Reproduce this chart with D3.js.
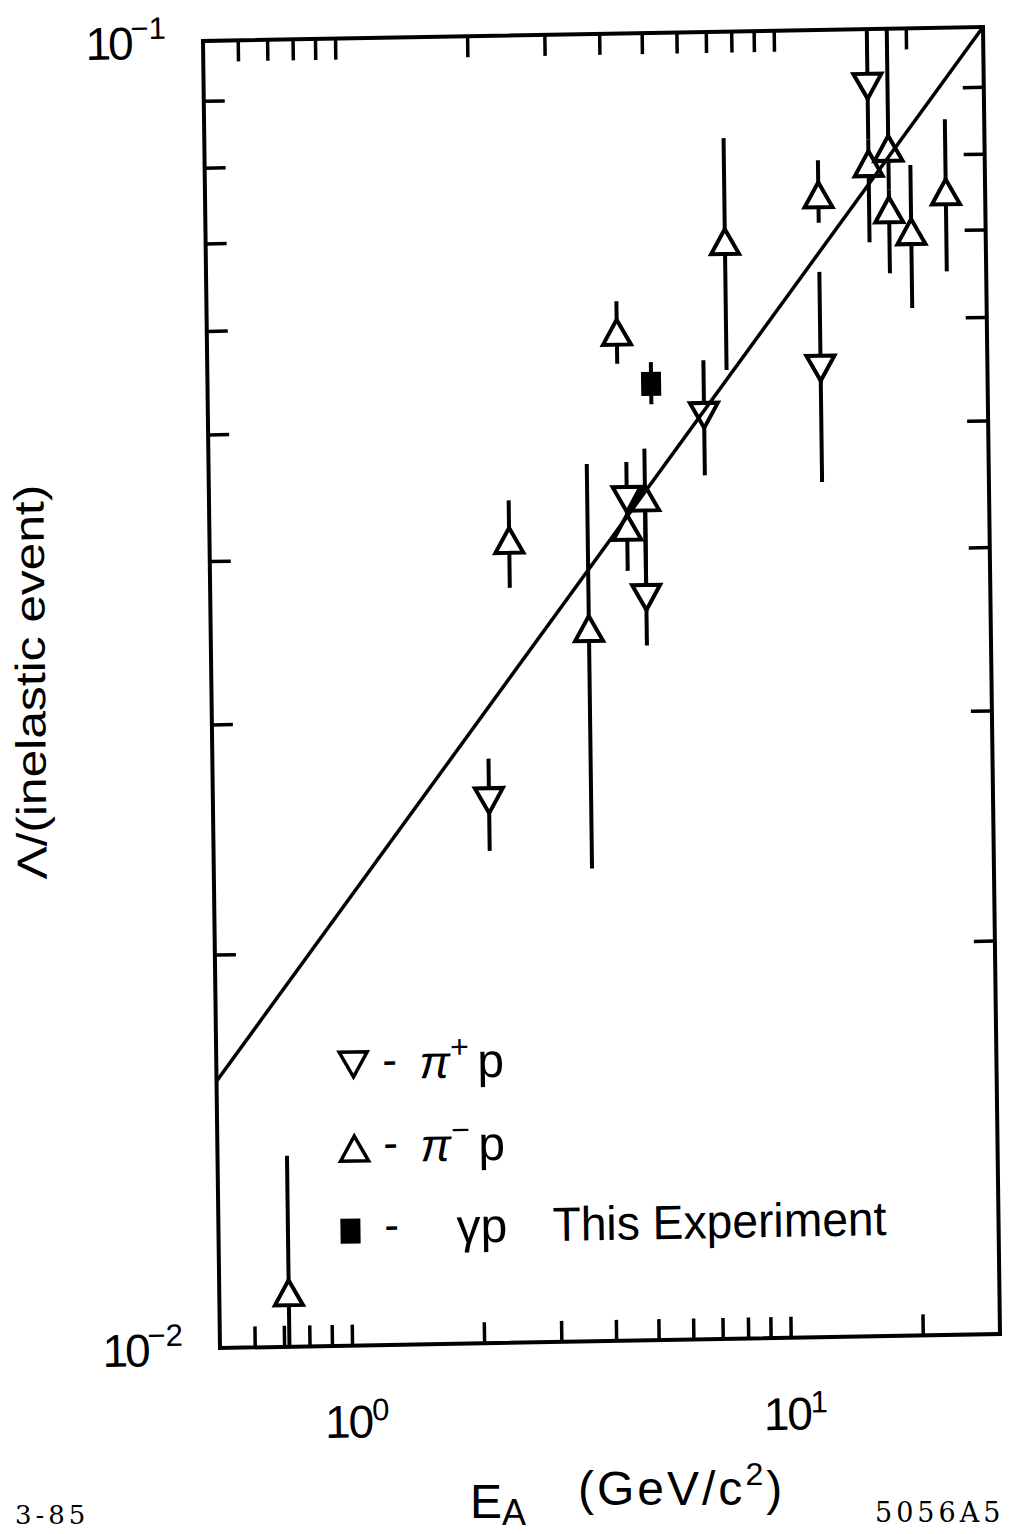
<!DOCTYPE html>
<html><head><meta charset="utf-8">
<script src="https://cdn.jsdelivr.net/npm/d3@7"></script>
<style>
html,body{margin:0;padding:0;background:#fff;}
svg{display:block;}
text{font-family:"Liberation Sans",Arial,sans-serif;fill:#000;}
</style></head><body>
<svg id="chart" width="1016" height="1534"></svg>
<script>
// ---------- data ----------
const xDomain = [0.5, 30];
const yDomain = [0.01, 0.1];
const xTicks = [0.6, 0.7, 0.8, 0.9, 1, 2, 3, 4, 5, 6, 7, 8, 9, 10, 20];
const yTicks = [0.02, 0.03, 0.04, 0.05, 0.06, 0.07, 0.08, 0.09];
const xTickLabels = [{v: 1, base: "10", exp: "0"}, {v: 10, base: "10", exp: "1"}];
const yTickLabels = [{v: 0.1, base: "10", exp: "−1"}, {v: 0.01, base: "10", exp: "−2"}];

// π+p  (open down-triangles)
const piPlusE  = [2.13, 4.48, 4.93, 6.76, 12.5, 16.3];
const piPlusV  = [0.0260, 0.0440, 0.0370, 0.0509, 0.0551, 0.0904];
const piPlusLo = [0.0238, 0.0419, 0.0340, 0.0458, 0.0451, 0.0823];
const piPlusHi = [0.0280, 0.0470, 0.0441, 0.0561, 0.0653, 0.1];

// π−p  (open up-triangles)
const piMinusE  = [0.72, 2.41, 3.64, 4.30, 4.48, 4.93, 7.63, 12.5, 16.3, 18.1, 18.1, 20.3, 24.4];
const piMinusV  = [0.0110, 0.0411, 0.0351, 0.0591, 0.0419, 0.0441, 0.0691, 0.0748, 0.0789, 0.0810, 0.0727, 0.0699, 0.0749];
const piMinusLo = [0.0100, 0.0378, 0.0230, 0.0559, 0.0388, 0.0370, 0.0551, 0.0712, 0.0687, 0.0753, 0.0650, 0.0611, 0.0651];
const piMinusHi = [0.0140, 0.0441, 0.0469, 0.0624, 0.0440, 0.0481, 0.0829, 0.0795, 0.0823, 0.1000, 0.0753, 0.0786, 0.0851];

// γp  This Experiment (filled square)
const gammaE  = [5.13];
const gammaV  = [0.0539];
const gammaLo = [0.0520];
const gammaHi = [0.0560];

// fitted line
const fitE = [0.5, 30];
const fitV = [0.016, 0.1];

// ---------- drawing ----------
const svg = d3.select("#chart");
const W = 780, H = 1307;
const g = svg.append("g").attr("transform", "matrix(1,-0.01795,0.013,1,203,41)");

const x = d3.scaleLog().domain(xDomain).range([0, W]);
const y = d3.scaleLog().domain(yDomain).range([H, 0]);

const TL = 21;
g.append("g").attr("class", "ax").attr("transform", `translate(0,${H})`)
  .call(d3.axisBottom(x).tickValues(xTicks).tickSize(-TL).tickSizeOuter(0).tickFormat(""));
g.append("g").attr("class", "ax")
  .call(d3.axisTop(x).tickValues(xTicks).tickSize(-TL).tickSizeOuter(0).tickFormat(""));
g.append("g").attr("class", "ax")
  .call(d3.axisLeft(y).tickValues(yTicks).tickSize(-TL).tickSizeOuter(0).tickFormat(""));
g.append("g").attr("class", "ax").attr("transform", `translate(${W},0)`)
  .call(d3.axisRight(y).tickValues(yTicks).tickSize(-TL).tickSizeOuter(0).tickFormat(""));
g.selectAll(".ax .domain").remove();
g.selectAll(".ax .tick line").attr("stroke", "#000").attr("stroke-width", 3.5);

g.append("rect").attr("width", W).attr("height", H)
  .attr("fill", "none").attr("stroke", "#000").attr("stroke-width", 4);

// tick labels
xTickLabels.forEach(d => {
  const t = g.append("text").attr("x", x(d.v) - 28).attr("y", H + 92).style("font-size", "46px");
  t.append("tspan").attr("letter-spacing", "-2").text(d.base);
  t.append("tspan").attr("dy", -17).style("font-size", "31px").text(d.exp);
});
yTickLabels.forEach(d => {
  const t = g.append("text").attr("x", -37).attr("y", y(d.v) + 17)
    .attr("text-anchor", "end").style("font-size", "46px");
  t.append("tspan").attr("letter-spacing", "-3").text(d.base);
  t.append("tspan").attr("dy", -20).style("font-size", "31px").text(d.exp);
});

// clip
g.append("clipPath").attr("id", "plotclip").append("rect").attr("width", W).attr("height", H);
const plot = g.append("g").attr("clip-path", "url(#plotclip)");

function bars(E, Lo, Hi) {
  plot.selectAll(null).data(d3.range(E.length)).enter().append("line")
    .attr("x1", i => x(E[i])).attr("x2", i => x(E[i]))
    .attr("y1", i => y(Hi[i])).attr("y2", i => y(Lo[i]))
    .attr("stroke", "#000").attr("stroke-width", 4);
}
bars(piPlusE, piPlusLo, piPlusHi);
bars(piMinusE, piMinusLo, piMinusHi);
bars(gammaE, gammaLo, gammaHi);

const TW = 28, THh = 25;
function triPath(up, cx, cy) {
  const hw = TW / 2, hh = THh / 2;
  return up
    ? `M${cx},${cy - hh}L${cx + hw},${cy + hh}L${cx - hw},${cy + hh}Z`
    : `M${cx},${cy + hh}L${cx + hw},${cy - hh}L${cx - hw},${cy - hh}Z`;
}
function tris(E, V, up) {
  plot.selectAll(null).data(d3.range(E.length)).enter().append("path")
    .attr("d", i => triPath(up, x(E[i]), y(V[i])))
    .attr("fill", "#fff").attr("stroke", "#000").attr("stroke-width", 4)
    .attr("stroke-linejoin", "miter");
}
tris(piPlusE, piPlusV, false);
tris(piMinusE, piMinusV, true);
plot.selectAll(null).data(d3.range(gammaE.length)).enter().append("rect")
  .attr("x", i => x(gammaE[i]) - 10).attr("y", i => y(gammaV[i]) - 12)
  .attr("width", 20).attr("height", 24).attr("fill", "#000");

// fit line
const line = d3.line().x(d => x(d[0])).y(d => y(d[1]));
plot.append("path").datum(d3.zip(fitE, fitV)).attr("d", line)
  .attr("fill", "none").attr("stroke", "#000").attr("stroke-width", 3.5);

// legend
const lg = g.append("g");
lg.append("path").attr("d", triPath(false, 137, 1026)).attr("fill", "#fff").attr("stroke", "#000").attr("stroke-width", 3.5);
lg.append("path").attr("d", triPath(true, 137, 1110)).attr("fill", "#fff").attr("stroke", "#000").attr("stroke-width", 3.5);
lg.append("rect").attr("x", 122).attr("y", 1180).attr("width", 20).attr("height", 25).attr("fill", "#000");

function legRow(yb, sup) {
  lg.append("text").attr("x", 166).attr("y", yb - 4).style("font-size", "44px").text("-");
  lg.append("text").attr("x", 203).attr("y", yb).style("font-size", "46px").style("font-style", "italic").text("π");
  lg.append("text").attr("x", 234).attr("y", yb - 20).style("font-size", "32px").text(sup);
  lg.append("text").attr("x", 261).attr("y", yb).style("font-size", "48px").text("p");
}
legRow(1041, "+");
legRow(1124, "−");
lg.append("text").attr("x", 166).attr("y", 1202).style("font-size", "44px").text("-");
lg.append("text").attr("x", 238).attr("y", 1206).style("font-size", "48px").text("γp");
lg.append("text").attr("x", 334).attr("y", 1206).style("font-size", "48px")
  .attr("textLength", 334).attr("lengthAdjust", "spacingAndGlyphs").text("This Experiment");

// axis titles & notes (page coordinates)
svg.append("text").attr("transform", "translate(45,682) rotate(-90.5)")
  .attr("text-anchor", "middle").style("font-size", "42px")
  .attr("textLength", 395).attr("lengthAdjust", "spacingAndGlyphs")
  .text("Λ/(inelastic event)");

const xt = svg.append("text").attr("x", 470).attr("y", 1518).style("font-size", "48px");
xt.append("tspan").text("E");
xt.append("tspan").attr("dy", 7).style("font-size", "36px").text("A");
const xu = svg.append("text").attr("x", 578).attr("y", 1505).style("font-size", "48px").attr("letter-spacing", "3");
xu.append("tspan").text("(GeV/c");
xu.append("tspan").attr("dy", -20).style("font-size", "32px").text("2");
xu.append("tspan").attr("dy", 20).text(")");

svg.append("text").attr("x", 15).attr("y", 1524).style("font-family", "'DejaVu Serif',serif")
  .style("font-size", "26px").attr("letter-spacing", "4").text("3-85");
svg.append("text").attr("x", 875).attr("y", 1522).style("font-family", "'DejaVu Serif',serif")
  .style("font-size", "27px").attr("letter-spacing", "4").text("5056A5");
</script>
</body></html>
